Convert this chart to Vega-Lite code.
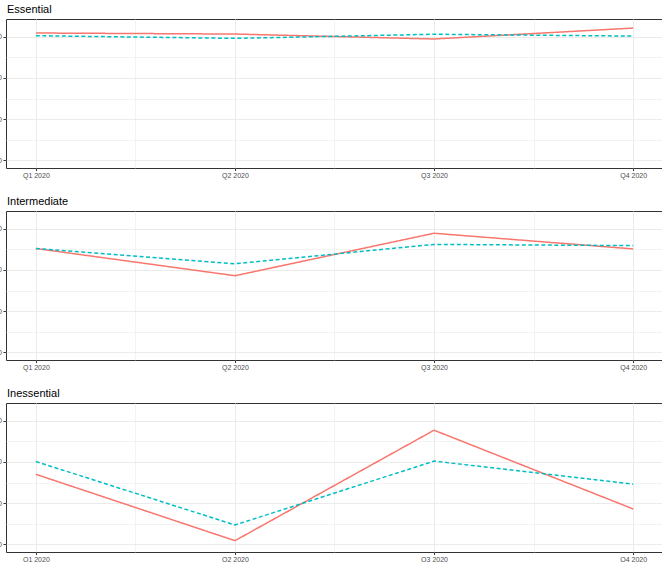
{
  "$schema": "https://vega.github.io/schema/vega-lite/v6.json",
  "padding": {"left": -7, "top": 3, "right": 0, "bottom": 0},
  "spacing": 16,
  "data": {"values": [
    {"category": "Essential", "quarter": 1, "series": "Observed", "value": 40.9},
    {"category": "Essential", "quarter": 2, "series": "Observed", "value": 40.65},
    {"category": "Essential", "quarter": 3, "series": "Observed", "value": 39.45},
    {"category": "Essential", "quarter": 4, "series": "Observed", "value": 42.1},
    {"category": "Essential", "quarter": 1, "series": "Predicted", "value": 40.25},
    {"category": "Essential", "quarter": 2, "series": "Predicted", "value": 39.6},
    {"category": "Essential", "quarter": 3, "series": "Predicted", "value": 40.6},
    {"category": "Essential", "quarter": 4, "series": "Predicted", "value": 40.15},
    {"category": "Intermediate", "quarter": 1, "series": "Observed", "value": 35.2},
    {"category": "Intermediate", "quarter": 2, "series": "Observed", "value": 28.6},
    {"category": "Intermediate", "quarter": 3, "series": "Observed", "value": 38.9},
    {"category": "Intermediate", "quarter": 4, "series": "Observed", "value": 35.1},
    {"category": "Intermediate", "quarter": 1, "series": "Predicted", "value": 35.2},
    {"category": "Intermediate", "quarter": 2, "series": "Predicted", "value": 31.5},
    {"category": "Intermediate", "quarter": 3, "series": "Predicted", "value": 36.2},
    {"category": "Intermediate", "quarter": 4, "series": "Predicted", "value": 35.9},
    {"category": "Inessential", "quarter": 1, "series": "Observed", "value": 27.0},
    {"category": "Inessential", "quarter": 2, "series": "Observed", "value": 10.9},
    {"category": "Inessential", "quarter": 3, "series": "Observed", "value": 37.7},
    {"category": "Inessential", "quarter": 4, "series": "Observed", "value": 18.6},
    {"category": "Inessential", "quarter": 1, "series": "Predicted", "value": 30.1},
    {"category": "Inessential", "quarter": 2, "series": "Predicted", "value": 14.7},
    {"category": "Inessential", "quarter": 3, "series": "Predicted", "value": 30.2},
    {"category": "Inessential", "quarter": 4, "series": "Predicted", "value": 24.6}
  ]},
  "config": {
    "font": "Liberation Sans",
    "view": {"stroke": "#333333", "strokeWidth": 1},
    "title": {"anchor": "start", "frame": "group", "fontSize": 11, "fontWeight": "normal", "color": "#000000", "offset": 4, "dx": 1},
    "axis": {
      "domain": false, "gridColor": "#EBEBEB", "tickColor": "#333333", "tickSize": 3,
      "labelFontSize": 7, "labelColor": "#4D4D4D", "labelPadding": 1.5, "title": null
    },
    "axisX": {"tickSize": 2.5, "labelPadding": 0.5}
  },
  "vconcat": [
    {
      "title": {"text": "Essential"},
      "width": 657, "height": 149,
      "transform": [{"filter": "datum.category === 'Essential'"}],
      "mark": {"type": "line", "strokeWidth": 1.5},
      "encoding": {
        "x": {"field": "quarter", "type": "quantitative", "scale": {"domain": [0.85, 4.15], "nice": false, "zero": false},
          "axis": {"values": [1, 1.5, 2, 2.5, 3, 3.5, 4], "labelExpr": "datum.value % 1 ? '' : 'Q' + datum.value + ' 2020'",
            "gridWidth": {"condition": {"test": "datum.value % 1", "value": 0.6}, "value": 1},
            "tickOpacity": {"condition": {"test": "datum.value % 1", "value": 0}, "value": 1}}},
        "y": {"field": "value", "type": "quantitative", "scale": {"domain": [8.15, 44.3], "nice": false, "zero": false},
          "axis": {"values": [10, 15, 20, 25, 30, 35, 40], "labelExpr": "datum.value % 10 ? '' : datum.label",
            "gridWidth": {"condition": {"test": "datum.value % 10", "value": 0.6}, "value": 1},
            "tickOpacity": {"condition": {"test": "datum.value % 10", "value": 0}, "value": 1}}},
        "color": {"field": "series", "type": "nominal", "scale": {"domain": ["Observed", "Predicted"], "range": ["#F8766D", "#00BFC4"]}, "legend": null},
        "strokeDash": {"field": "series", "type": "nominal", "scale": {"domain": ["Observed", "Predicted"], "range": [[1, 0], [4, 2.5]]}, "legend": null}
      }
    },
    {
      "title": {"text": "Intermediate"},
      "width": 657, "height": 149,
      "transform": [{"filter": "datum.category === 'Intermediate'"}],
      "mark": {"type": "line", "strokeWidth": 1.5},
      "encoding": {
        "x": {"field": "quarter", "type": "quantitative", "scale": {"domain": [0.85, 4.15], "nice": false, "zero": false},
          "axis": {"values": [1, 1.5, 2, 2.5, 3, 3.5, 4], "labelExpr": "datum.value % 1 ? '' : 'Q' + datum.value + ' 2020'",
            "gridWidth": {"condition": {"test": "datum.value % 1", "value": 0.6}, "value": 1},
            "tickOpacity": {"condition": {"test": "datum.value % 1", "value": 0}, "value": 1}}},
        "y": {"field": "value", "type": "quantitative", "scale": {"domain": [8.15, 44.3], "nice": false, "zero": false},
          "axis": {"values": [10, 15, 20, 25, 30, 35, 40], "labelExpr": "datum.value % 10 ? '' : datum.label",
            "gridWidth": {"condition": {"test": "datum.value % 10", "value": 0.6}, "value": 1},
            "tickOpacity": {"condition": {"test": "datum.value % 10", "value": 0}, "value": 1}}},
        "color": {"field": "series", "type": "nominal", "scale": {"domain": ["Observed", "Predicted"], "range": ["#F8766D", "#00BFC4"]}, "legend": null},
        "strokeDash": {"field": "series", "type": "nominal", "scale": {"domain": ["Observed", "Predicted"], "range": [[1, 0], [4, 2.5]]}, "legend": null}
      }
    },
    {
      "title": {"text": "Inessential"},
      "width": 657, "height": 149,
      "transform": [{"filter": "datum.category === 'Inessential'"}],
      "mark": {"type": "line", "strokeWidth": 1.5},
      "encoding": {
        "x": {"field": "quarter", "type": "quantitative", "scale": {"domain": [0.85, 4.15], "nice": false, "zero": false},
          "axis": {"values": [1, 1.5, 2, 2.5, 3, 3.5, 4], "labelExpr": "datum.value % 1 ? '' : 'Q' + datum.value + ' 2020'",
            "gridWidth": {"condition": {"test": "datum.value % 1", "value": 0.6}, "value": 1},
            "tickOpacity": {"condition": {"test": "datum.value % 1", "value": 0}, "value": 1}}},
        "y": {"field": "value", "type": "quantitative", "scale": {"domain": [8.15, 44.3], "nice": false, "zero": false},
          "axis": {"values": [10, 15, 20, 25, 30, 35, 40], "labelExpr": "datum.value % 10 ? '' : datum.label",
            "gridWidth": {"condition": {"test": "datum.value % 10", "value": 0.6}, "value": 1},
            "tickOpacity": {"condition": {"test": "datum.value % 10", "value": 0}, "value": 1}}},
        "color": {"field": "series", "type": "nominal", "scale": {"domain": ["Observed", "Predicted"], "range": ["#F8766D", "#00BFC4"]}, "legend": null},
        "strokeDash": {"field": "series", "type": "nominal", "scale": {"domain": ["Observed", "Predicted"], "range": [[1, 0], [4, 2.5]]}, "legend": null}
      }
    }
  ]
}
